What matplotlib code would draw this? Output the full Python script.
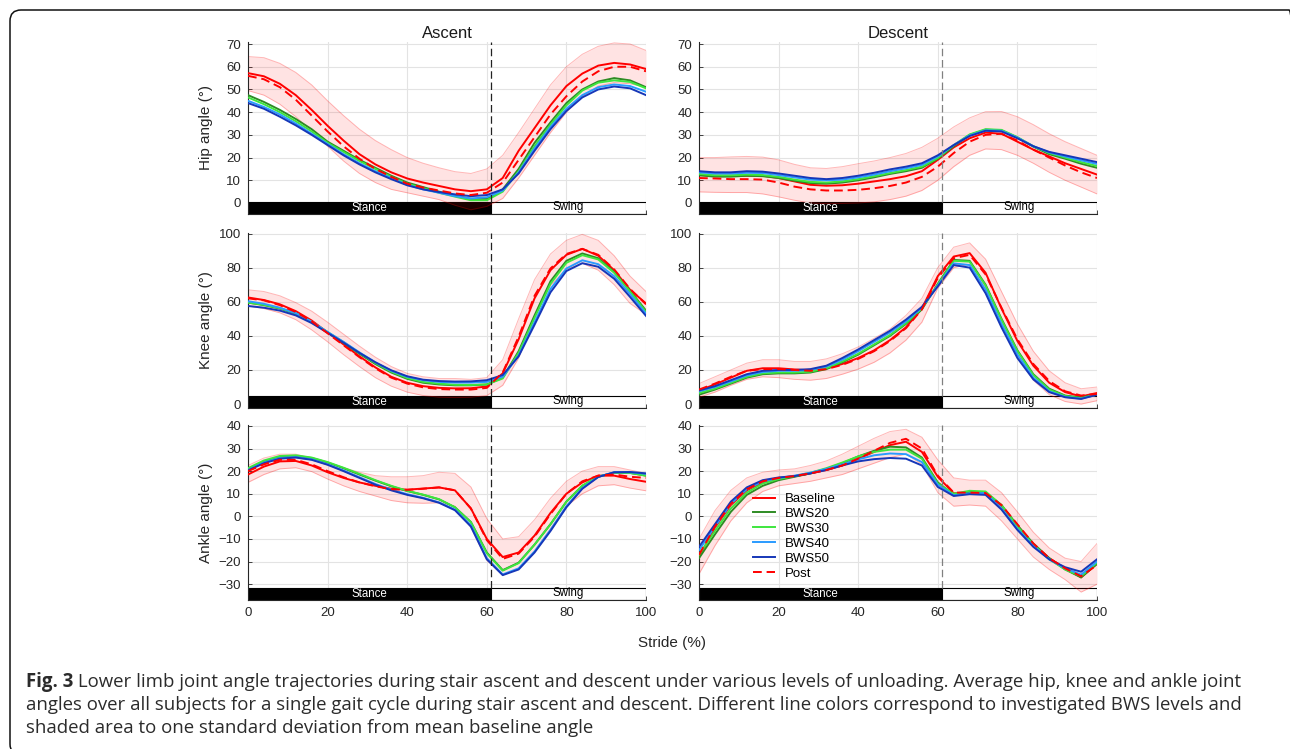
import matplotlib
matplotlib.use("Agg")
import matplotlib.pyplot as plt
from matplotlib.patches import Rectangle, FancyBboxPatch
from matplotlib.transforms import IdentityTransform
import matplotlib.transforms as mtransforms

# ---------------- data ----------------
stride = [0, 4, 8, 12, 16, 20, 24, 28, 32, 36, 40, 44, 48, 52, 56, 60,
          64, 68, 72, 76, 80, 84, 88, 92, 96, 100]
toe_off = 61
series_names = ["Baseline", "BWS20", "BWS30", "BWS40", "BWS50", "Post"]

# Hip - ascent
hip_asc_base = [57.2, 55.8, 52.5, 47.5, 41.0, 34.0, 27.5, 21.5, 17.0, 13.5, 10.8, 9.0, 7.5, 6.0, 5.2, 6.0, 11.0, 23.0, 33.0, 43.0, 51.5, 57.0, 60.5, 61.7, 61.0, 59.0]
hip_asc_20 = [47.5, 44.5, 41.0, 37.0, 32.5, 27.0, 23.0, 19.0, 15.5, 12.0, 9.0, 7.0, 5.0, 3.2, 1.8, 1.8, 6.0, 15.0, 26.5, 35.5, 44.0, 50.0, 53.5, 55.0, 54.0, 51.0]
hip_asc_30 = [46.5, 43.5, 40.0, 36.0, 31.5, 26.5, 22.5, 18.5, 15.0, 11.5, 8.5, 6.5, 4.5, 2.8, 1.2, 1.2, 5.0, 14.0, 25.0, 34.5, 43.0, 49.5, 53.0, 54.0, 53.3, 50.5]
hip_asc_40 = [45.0, 42.3, 39.0, 35.0, 30.5, 26.0, 21.5, 17.5, 14.0, 11.0, 8.0, 6.0, 4.5, 3.0, 2.0, 2.5, 5.5, 13.5, 24.0, 33.5, 41.5, 47.5, 51.0, 52.2, 51.5, 49.0]
hip_asc_50 = [44.0, 41.5, 38.0, 34.2, 30.0, 25.5, 21.0, 17.0, 13.5, 10.5, 7.8, 6.0, 4.8, 3.8, 3.0, 3.5, 6.0, 13.0, 23.0, 32.5, 40.5, 46.5, 50.0, 51.3, 50.5, 47.5]
hip_asc_post = [56.0, 54.5, 51.0, 45.5, 38.5, 31.5, 25.0, 19.5, 15.0, 11.5, 8.5, 6.8, 5.5, 4.2, 3.5, 4.5, 9.0, 19.0, 29.0, 39.0, 47.0, 53.5, 58.0, 60.0, 60.0, 58.0]
hip_asc_hi = [64.5, 64.0, 61.5, 57.5, 52.0, 45.0, 38.5, 32.5, 27.5, 23.5, 20.0, 17.5, 15.5, 13.8, 13.0, 15.0, 21.0, 31.0, 41.5, 52.0, 60.0, 65.5, 69.0, 70.5, 70.0, 67.2]
hip_asc_lo = [49.5, 47.5, 43.5, 38.0, 31.5, 25.0, 18.5, 13.0, 9.0, 6.0, 4.5, 3.0, 1.5, -1.0, -3.0, -1.5, 2.0, 11.0, 21.0, 31.0, 40.0, 47.0, 51.5, 53.0, 52.5, 51.0]

# Hip - descent
hip_desc_base = [12.3, 12.0, 12.0, 12.0, 12.0, 11.0, 9.5, 8.0, 7.6, 7.8, 8.5, 9.5, 10.5, 11.8, 14.0, 19.0, 24.5, 28.5, 31.0, 30.5, 27.0, 23.5, 20.5, 17.5, 15.0, 12.5]
hip_desc_20 = [12.2, 11.6, 11.6, 12.0, 11.8, 11.0, 9.8, 8.8, 8.5, 9.0, 10.0, 11.3, 12.8, 14.0, 15.5, 19.5, 25.0, 30.0, 32.3, 32.0, 28.8, 24.8, 21.5, 19.5, 17.3, 15.5]
hip_desc_30 = [12.8, 12.2, 12.2, 12.5, 12.3, 11.5, 10.3, 9.3, 9.0, 9.5, 10.5, 11.8, 13.2, 14.5, 16.0, 19.8, 25.5, 30.2, 32.5, 32.2, 29.0, 25.0, 22.0, 20.0, 18.0, 16.3]
hip_desc_40 = [13.5, 13.0, 13.0, 13.3, 13.2, 12.3, 11.3, 10.3, 10.0, 10.3, 11.3, 12.5, 14.0, 15.3, 16.8, 20.5, 25.5, 29.8, 32.0, 31.8, 28.8, 25.0, 22.3, 20.5, 18.8, 17.2]
hip_desc_50 = [14.0, 13.5, 13.5, 14.0, 13.8, 13.0, 12.0, 11.0, 10.5, 11.0, 12.0, 13.3, 14.8, 16.0, 17.5, 21.0, 25.5, 29.5, 31.8, 31.5, 28.5, 25.0, 22.5, 21.0, 19.5, 18.0]
hip_desc_post = [11.0, 10.8, 10.5, 10.5, 10.3, 9.0, 7.2, 6.0, 5.5, 5.5, 5.8, 6.5, 7.5, 9.0, 11.5, 16.0, 22.0, 27.0, 30.0, 30.5, 27.5, 23.5, 20.0, 16.5, 13.5, 11.0]
hip_desc_hi = [20.0, 20.0, 20.3, 20.5, 20.2, 19.0, 17.0, 15.5, 15.2, 16.0, 17.3, 18.5, 20.0, 21.8, 24.5, 28.5, 33.5, 37.5, 40.2, 40.3, 38.0, 34.5, 30.5, 27.0, 24.0, 21.0]
hip_desc_lo = [4.9, 4.7, 4.6, 4.6, 4.0, 2.7, 1.2, 0.0, -0.3, -0.2, 0.0, 0.5, 1.5, 3.0, 5.5, 10.0, 16.0, 21.0, 23.8, 23.5, 21.0, 17.5, 13.5, 10.0, 7.0, 4.0]

# Knee - ascent
knee_asc_base = [62.5, 61.0, 58.5, 54.5, 49.0, 42.0, 35.0, 28.0, 21.5, 16.0, 12.5, 10.5, 9.5, 9.2, 9.3, 10.3, 18.0, 38.0, 62.0, 78.5, 87.5, 91.0, 87.0, 78.5, 67.0, 59.0]
knee_asc_20 = [59.5, 58.0, 56.0, 53.0, 48.0, 42.0, 36.0, 29.5, 23.5, 18.5, 14.8, 12.5, 11.5, 11.0, 11.0, 11.5, 15.5, 31.0, 52.0, 72.0, 84.0, 88.3, 85.5, 77.5, 66.5, 54.8]
knee_asc_30 = [59.5, 58.2, 56.2, 53.2, 48.2, 42.2, 36.3, 30.0, 24.0, 19.0, 15.3, 13.0, 12.0, 11.3, 11.2, 11.5, 15.0, 30.0, 50.5, 70.5, 82.8, 87.3, 84.8, 77.0, 66.0, 54.0]
knee_asc_40 = [60.3, 58.8, 56.5, 53.3, 48.3, 42.3, 36.5, 30.3, 24.5, 19.5, 16.0, 14.0, 13.0, 12.6, 12.6, 13.0, 16.0, 28.5, 48.0, 67.5, 79.5, 84.3, 82.0, 75.0, 64.5, 53.0]
knee_asc_50 = [57.5, 56.5, 54.8, 52.0, 47.5, 41.8, 36.0, 30.0, 24.5, 19.8, 16.3, 14.3, 13.5, 13.2, 13.3, 14.0, 17.0, 28.0, 46.5, 65.5, 78.0, 82.6, 80.5, 73.5, 62.8, 51.7]
knee_asc_post = [62.0, 60.8, 58.0, 54.0, 48.5, 41.5, 34.5, 27.5, 21.0, 15.5, 12.0, 9.8, 8.8, 8.5, 8.5, 9.5, 18.5, 39.5, 63.5, 79.5, 88.0, 91.0, 87.5, 79.0, 67.5, 58.5]
knee_asc_hi = [67.0, 66.0, 63.5, 59.5, 54.5, 48.0, 41.0, 34.0, 27.5, 22.0, 18.0, 16.0, 15.0, 15.0, 14.5, 15.5, 26.0, 50.0, 73.0, 88.0, 96.0, 99.5, 96.0, 87.0, 75.0, 66.0]
knee_asc_lo = [57.5, 56.0, 53.5, 49.5, 43.5, 36.5, 29.0, 22.0, 15.5, 10.5, 7.0, 5.0, 4.0, 3.8, 4.0, 5.0, 11.0, 27.0, 51.0, 69.5, 79.0, 82.5, 78.5, 70.0, 59.0, 52.5]

# Knee - descent
knee_desc_base = [8.0, 11.5, 15.5, 19.5, 21.0, 21.0, 20.3, 19.8, 21.0, 23.5, 27.0, 31.5, 37.5, 45.0, 56.0, 75.0, 86.5, 88.5, 77.0, 56.0, 37.0, 22.5, 12.5, 7.0, 4.5, 6.5]
knee_desc_20 = [5.5, 8.5, 12.0, 15.5, 17.5, 18.0, 18.0, 18.5, 20.5, 24.5, 29.0, 34.5, 40.0, 47.0, 55.5, 70.5, 84.5, 84.0, 70.0, 50.0, 31.5, 17.5, 9.0, 5.0, 3.8, 5.8]
knee_desc_30 = [6.5, 9.0, 12.5, 16.0, 18.0, 18.5, 18.5, 19.0, 21.0, 25.0, 29.5, 35.0, 40.5, 47.5, 56.0, 70.0, 84.0, 83.5, 69.5, 49.5, 31.0, 17.0, 8.5, 4.7, 3.5, 5.5]
knee_desc_40 = [7.5, 10.0, 13.3, 16.8, 18.8, 19.5, 19.5, 20.0, 22.0, 26.0, 31.0, 36.5, 42.0, 48.5, 56.5, 69.5, 82.5, 81.5, 67.0, 47.0, 29.0, 15.5, 7.5, 4.2, 3.2, 5.5]
knee_desc_50 = [8.0, 10.5, 14.0, 17.5, 19.5, 20.0, 20.0, 20.5, 22.5, 27.0, 32.0, 37.5, 43.0, 49.5, 57.0, 69.0, 81.5, 80.0, 65.0, 45.0, 27.0, 14.5, 7.0, 4.0, 3.0, 5.5]
knee_desc_post = [8.5, 12.0, 16.0, 19.5, 20.5, 20.5, 20.0, 19.5, 20.5, 23.0, 26.5, 31.0, 37.0, 44.5, 55.5, 74.0, 85.5, 87.5, 76.0, 56.5, 38.0, 23.5, 13.5, 7.5, 5.0, 6.0]
knee_desc_hi = [12.0, 16.0, 20.0, 24.0, 26.0, 26.0, 25.0, 25.0, 26.5, 29.5, 33.5, 38.5, 44.0, 52.0, 62.0, 80.0, 92.0, 94.5, 85.0, 66.0, 47.0, 31.0, 19.5, 12.5, 9.0, 10.0]
knee_desc_lo = [4.0, 7.0, 11.0, 14.5, 16.0, 15.5, 14.5, 14.0, 15.0, 17.5, 20.5, 24.5, 30.0, 37.5, 48.0, 68.0, 80.0, 82.0, 68.0, 47.0, 28.0, 14.0, 5.5, 1.5, 0.0, 2.0]

# Ankle - ascent
ankle_asc_base = [18.5, 22.0, 24.3, 24.5, 22.5, 19.5, 17.0, 15.0, 13.5, 12.2, 11.8, 12.3, 12.8, 11.5, 3.5, -10.0, -18.0, -16.0, -8.5, 1.5, 10.0, 15.0, 18.0, 18.0, 16.5, 15.3]
ankle_asc_20 = [21.0, 24.3, 26.3, 26.7, 25.8, 23.8, 21.3, 18.5, 15.8, 13.3, 11.2, 9.5, 7.5, 4.0, -2.5, -16.0, -23.8, -20.5, -12.5, -3.5, 6.5, 13.5, 17.5, 19.3, 19.2, 18.0]
ankle_asc_30 = [21.3, 24.7, 26.7, 27.0, 26.0, 24.0, 21.5, 18.8, 16.0, 13.5, 11.3, 9.6, 7.6, 4.0, -2.6, -16.3, -24.0, -20.7, -12.5, -3.5, 6.5, 13.6, 17.6, 19.3, 19.2, 18.0]
ankle_asc_40 = [20.5, 23.8, 25.8, 26.2, 25.2, 23.0, 20.3, 17.3, 14.3, 11.8, 9.8, 8.2, 6.2, 3.0, -4.0, -18.5, -25.7, -23.0, -15.5, -6.0, 4.5, 12.5, 17.5, 19.5, 19.5, 18.8]
ankle_asc_50 = [20.3, 23.5, 25.5, 26.0, 25.0, 22.8, 20.0, 17.0, 14.0, 11.5, 9.5, 8.0, 6.0, 2.7, -4.5, -19.0, -26.0, -23.5, -16.0, -6.5, 4.0, 12.2, 17.4, 19.5, 19.6, 19.0]
ankle_asc_post = [20.0, 23.0, 25.0, 25.0, 23.0, 20.0, 17.3, 15.0, 13.3, 12.0, 11.7, 12.2, 12.8, 11.5, 3.5, -10.5, -18.8, -16.5, -9.0, 1.0, 10.0, 15.5, 18.0, 18.5, 17.5, 17.0]
ankle_asc_hi = [22.5, 25.8, 27.5, 27.5, 25.8, 23.5, 21.5, 19.5, 18.0, 17.5, 17.5, 18.0, 19.5, 19.0, 13.0, -1.0, -10.0, -9.0, -1.5, 8.0, 15.5, 20.0, 22.0, 22.0, 20.5, 19.0]
ankle_asc_lo = [15.0, 18.5, 21.0, 21.5, 19.8, 16.5, 13.5, 11.0, 9.0, 7.0, 6.0, 5.8, 6.0, 4.5, -5.0, -19.5, -26.0, -23.0, -15.5, -5.5, 4.5, 10.0, 13.5, 14.0, 12.5, 11.3]

# Ankle - descent
ankle_desc_base = [-18.0, -5.0, 5.0, 11.5, 15.0, 16.8, 17.7, 19.0, 20.5, 22.5, 25.5, 28.5, 31.5, 33.0, 28.5, 17.5, 10.2, 10.5, 10.0, 4.5, -4.0, -12.5, -18.5, -23.0, -27.0, -21.0]
ankle_desc_20 = [-18.5, -8.0, 2.0, 9.5, 13.5, 16.0, 17.5, 19.0, 21.0, 23.5, 26.5, 29.0, 30.8, 30.5, 26.0, 15.0, 9.5, 10.8, 10.5, 5.0, -4.0, -12.0, -18.5, -23.5, -27.0, -21.0]
ankle_desc_30 = [-17.0, -6.5, 3.5, 10.5, 14.5, 16.5, 17.8, 19.3, 21.3, 23.8, 26.5, 28.5, 29.5, 29.5, 25.5, 14.5, 10.0, 11.3, 11.0, 5.0, -4.5, -12.5, -19.0, -23.5, -26.5, -20.5]
ankle_desc_40 = [-15.0, -4.5, 5.5, 12.0, 15.5, 17.0, 18.0, 19.3, 21.0, 23.0, 25.2, 27.0, 27.8, 27.5, 24.0, 14.0, 9.3, 10.2, 10.3, 3.5, -5.5, -13.0, -19.0, -23.0, -25.8, -20.0]
ankle_desc_50 = [-13.5, -3.5, 6.5, 12.8, 16.0, 17.2, 17.8, 19.0, 20.5, 22.5, 24.3, 25.3, 25.8, 25.5, 22.5, 13.0, 9.0, 9.8, 9.5, 3.0, -6.0, -13.5, -19.0, -22.5, -24.5, -19.0]
ankle_desc_post = [-17.0, -4.5, 5.5, 12.0, 15.5, 17.0, 17.8, 19.0, 20.5, 22.5, 25.5, 29.0, 32.5, 34.3, 30.0, 18.0, 10.5, 10.5, 10.3, 5.0, -3.5, -12.0, -18.5, -23.0, -26.5, -21.5]
ankle_desc_hi = [-10.0, 2.5, 11.5, 17.0, 19.5, 20.5, 21.0, 22.5, 24.5, 27.5, 31.0, 34.5, 37.5, 38.5, 35.0, 25.0, 17.0, 16.0, 16.0, 10.5, 2.0, -7.0, -14.0, -18.5, -20.0, -12.0]
ankle_desc_lo = [-25.5, -13.0, -2.0, 6.0, 11.0, 13.5, 14.5, 15.5, 17.0, 18.5, 21.0, 23.5, 26.0, 27.5, 23.0, 10.5, 4.5, 5.0, 4.5, -2.0, -10.0, -18.0, -23.5, -28.0, -33.5, -30.0]

panels = {
    ("hip", "asc"): (hip_asc_base, hip_asc_20, hip_asc_30, hip_asc_40, hip_asc_50, hip_asc_post, hip_asc_hi, hip_asc_lo),
    ("hip", "desc"): (hip_desc_base, hip_desc_20, hip_desc_30, hip_desc_40, hip_desc_50, hip_desc_post, hip_desc_hi, hip_desc_lo),
    ("knee", "asc"): (knee_asc_base, knee_asc_20, knee_asc_30, knee_asc_40, knee_asc_50, knee_asc_post, knee_asc_hi, knee_asc_lo),
    ("knee", "desc"): (knee_desc_base, knee_desc_20, knee_desc_30, knee_desc_40, knee_desc_50, knee_desc_post, knee_desc_hi, knee_desc_lo),
    ("ankle", "asc"): (ankle_asc_base, ankle_asc_20, ankle_asc_30, ankle_asc_40, ankle_asc_50, ankle_asc_post, ankle_asc_hi, ankle_asc_lo),
    ("ankle", "desc"): (ankle_desc_base, ankle_desc_20, ankle_desc_30, ankle_desc_40, ankle_desc_50, ankle_desc_post, ankle_desc_hi, ankle_desc_lo),
}

row_labels = {"hip": "Hip angle (°)", "knee": "Knee angle (°)", "ankle": "Ankle angle (°)"}
row_ylim = {"hip": (-4.85, 70.9), "knee": (-2.3, 100.3), "ankle": (-37.0, 40.4)}
row_yticks = {"hip": list(range(0, 71, 10)), "knee": list(range(0, 101, 20)), "ankle": list(range(-30, 41, 10))}
xticks = [0, 20, 40, 60, 80, 100]

# ---------------- style ----------------
colors = ["#ff0000", "#2e8b24", "#3ee63e", "#2a9bff", "#1637b8", "#ff0000"]
styles = ["-", "-", "-", "-", "-", (0, (4.5, 2.5))]

plt.rcParams["font.family"] = ["Liberation Sans", "DejaVu Sans"]
W, H = 1290, 749
fig = plt.figure(figsize=(W / 100, H / 100), dpi=100)
fig.patch.set_facecolor("white")

col_x = {"asc": 248, "desc": 699}
row_y = {"hip": (42, 214), "knee": (233, 408), "ankle": (425, 600)}
ax_w = 398

axes = {}
for row in ["hip", "knee", "ankle"]:
    for col in ["asc", "desc"]:
        top, bot = row_y[row]
        ax = fig.add_axes([col_x[col] / W, 1 - bot / H, ax_w / W, (bot - top) / H])
        axes[(row, col)] = ax
        data = panels[(row, col)]
        base, b20, b30, b40, b50, post, hi, lo = data
        ax.fill_between(stride, lo, hi, color="#ff0000", alpha=0.11, linewidth=0, zorder=2)
        ax.plot(stride, hi, color="#ff0000", alpha=0.28, lw=0.7, zorder=2)
        ax.plot(stride, lo, color="#ff0000", alpha=0.28, lw=0.7, zorder=2)
        for s, name, c, ls in zip([base, b20, b30, b40, b50, post], series_names, colors, styles):
            ax.plot(stride, s, color=c, ls=ls, lw=1.4, label=name, zorder=3,
                    solid_joinstyle="round", dash_joinstyle="round")
        ax.set_xlim(0, 100)
        ax.set_ylim(*row_ylim[row])
        ax.set_xticks(xticks)
        ax.set_yticks(row_yticks[row])
        ax.grid(True, color="#e3e3e3", lw=0.8, zorder=0)
        ax.set_axisbelow(True)
        for sp in ["top", "right"]:
            ax.spines[sp].set_visible(False)
        for sp in ["left", "bottom"]:
            ax.spines[sp].set_color("#262626")
            ax.spines[sp].set_linewidth(0.8)
        ax.tick_params(direction="in", length=3, width=0.6, colors="#262626",
                       labelsize=9.5, pad=5)
        if row != "ankle":
            ax.tick_params(labelbottom=False)
        # stance / swing bar
        tr = mtransforms.blended_transform_factory(ax.transData, ax.transAxes)
        ax.add_patch(Rectangle((0, 0), toe_off, 0.068, transform=tr, facecolor="black",
                               edgecolor="black", lw=0.8, zorder=1.5))
        ax.add_patch(Rectangle((toe_off, 0), 100 - toe_off, 0.068, transform=tr,
                               facecolor="white", edgecolor="black", lw=0.8, zorder=1.5))
        ax.text(toe_off / 2, 0.034, "Stance", transform=tr, color="white", fontsize=8.3,
                ha="center", va="center", zorder=5)
        ax.text((toe_off + 100) / 2, 0.038, "Swing", transform=tr, color="black", fontsize=8.3,
                ha="center", va="center", zorder=5)
        ax.plot([toe_off, toe_off], [0.068, 1.0], transform=tr,
                color=("#222222" if col == "asc" else "#808080"), lw=0.9,
                ls=(0, (6, 3)), zorder=4)
        if col == "asc":
            ax.set_ylabel(row_labels[row], fontsize=11, color="#262626")
            ax.yaxis.set_label_coords(-0.088, 0.5)

axes[("hip", "asc")].set_title("Ascent", fontsize=12, pad=3, color="#1a1a1a")
axes[("hip", "desc")].set_title("Descent", fontsize=12, pad=3, color="#1a1a1a")

leg = axes[("ankle", "desc")].legend(
    frameon=False, fontsize=9.5, handlelength=1.7, handletextpad=0.75,
    labelspacing=0.2, borderpad=0, borderaxespad=0, loc="upper left",
    bbox_to_anchor=(753 / W, 1 - 493 / H), bbox_transform=fig.transFigure)

fig.text(672 / W, 1 - 643 / H, "Stride (%)", fontsize=11, ha="center", va="center",
         color="#262626")

# caption
cap_font = ["Open Sans", "DejaVu Sans"]
cap_color = "#2b2b2b"
cap_size = 13.4
line1_rest = " Lower limb joint angle trajectories during stair ascent and descent under various levels of unloading. Average hip, knee and ankle joint"
line2 = "angles over all subjects for a single gait cycle during stair ascent and descent. Different line colors correspond to investigated BWS levels and"
line3 = "shaded area to one standard deviation from mean baseline angle"
x0 = 26 / W
t_bold = fig.text(x0, 1 - 687 / H, "Fig. 3", fontsize=cap_size, fontweight="bold",
                  family=cap_font, color=cap_color, va="baseline", ha="left")
fig.canvas.draw()
bb = t_bold.get_window_extent(renderer=fig.canvas.get_renderer())
fig.text(bb.x1 / W, 1 - 687 / H, line1_rest, fontsize=cap_size, family=cap_font,
         color=cap_color, va="baseline", ha="left")
fig.text(x0, 1 - 710 / H, line2, fontsize=cap_size, family=cap_font, color=cap_color,
         va="baseline", ha="left")
fig.text(x0, 1 - 733 / H, line3, fontsize=cap_size, family=cap_font, color=cap_color,
         va="baseline", ha="left")

# rounded frame
frame = FancyBboxPatch((10, -6), 1290, H - 8 + 6 - 2,
                       boxstyle="round,pad=0,rounding_size=11",
                       transform=IdentityTransform(), facecolor="none",
                       edgecolor="#111111", lw=1.1)
fig.add_artist(frame)

fig.savefig("out.png", dpi=100, facecolor="white")
